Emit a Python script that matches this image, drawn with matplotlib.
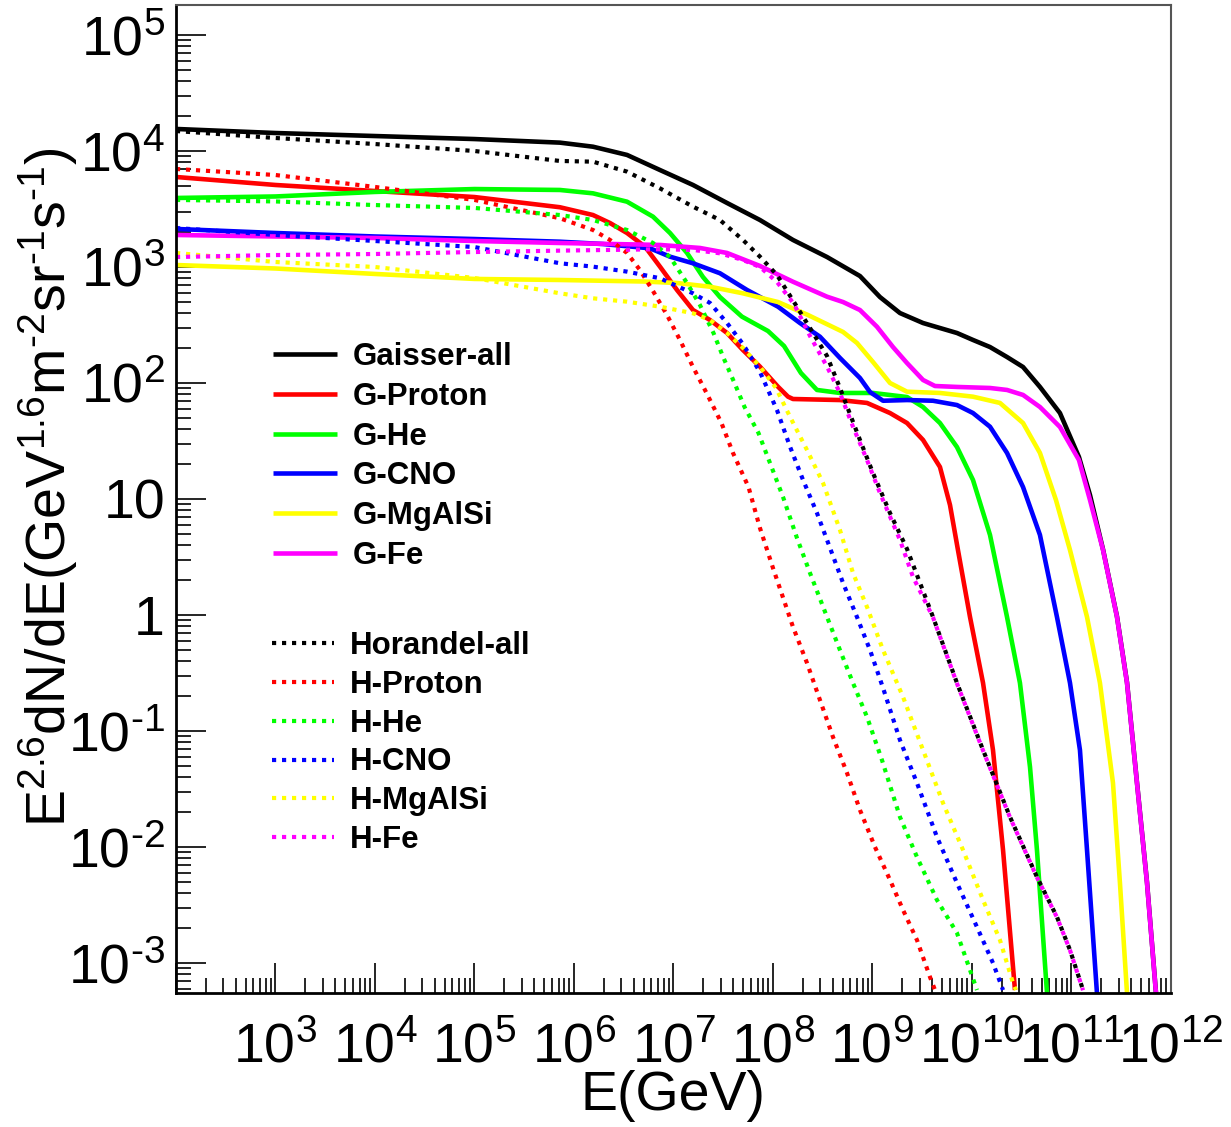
import numpy as np
import matplotlib
matplotlib.use('Agg')
import matplotlib.pyplot as plt
from matplotlib.ticker import LogLocator, FuncFormatter, NullFormatter

# ROOT-like look: Helvetica-ish text, mathtext in the same font
plt.rcParams['font.family'] = ['Liberation Sans', 'DejaVu Sans']
plt.rcParams['mathtext.fontset'] = 'custom'
plt.rcParams['mathtext.rm'] = 'Liberation Sans'
plt.rcParams['mathtext.it'] = 'Liberation Sans:italic'
plt.rcParams['mathtext.bf'] = 'Liberation Sans:bold'
plt.rcParams['mathtext.default'] = 'regular'

HY = '\u2010'  # plain hyphen, ROOT prints "-" not a wide minus

# values, as log10(E/GeV) and log10(E^2.6 dN/dE)
g_all_logE = [2.0, 3.0, 4.0, 5.0, 5.859, 6.191, 6.533, 6.864, 7.196, 7.538, 7.869, 8.201, 8.543,
              8.874, 9.075, 9.276, 9.508, 9.678, 9.849, 10.01, 10.181, 10.352, 10.513, 10.683,
              10.884, 11.075, 11.186, 11.317, 11.457, 11.558, 11.658, 11.759, 11.849]
g_all_logF = [4.19, 4.155, 4.129, 4.103, 4.072, 4.037, 3.966, 3.836, 3.707, 3.552, 3.405, 3.233, 3.086,
              2.922, 2.741, 2.603, 2.517, 2.474, 2.431, 2.371, 2.31, 2.224, 2.138, 1.966,
              1.741, 1.362, 1.034, 0.565, -0.012, -0.581, -1.443, -2.305, -3.255]

g_p_logE = [2.0, 3.0, 4.0, 5.0, 5.859, 6.191, 6.362, 6.533, 6.714, 6.864, 7.035, 7.196, 7.367, 7.538,
            7.698, 7.869, 8.05, 8.151, 8.201, 8.673, 8.945, 9.176, 9.347, 9.508, 9.678, 9.779, 9.859,
            9.98, 10.111, 10.211, 10.312, 10.432]
g_p_logF = [3.776, 3.707, 3.655, 3.603, 3.515, 3.448, 3.379, 3.293, 3.175, 3.003, 2.802, 2.629, 2.543,
            2.431, 2.284, 2.141, 1.968, 1.882, 1.862, 1.853, 1.828, 1.741, 1.655, 1.509, 1.276, 0.948,
            0.56, -0.017, -0.586, -1.164, -2.026, -3.233]

g_he_logE = [2.0, 3.0, 4.0, 5.0, 5.859, 6.191, 6.533, 6.794, 6.965, 7.136, 7.296, 7.467, 7.688, 7.95,
             8.111, 8.281, 8.442, 8.673, 9.005, 9.347, 9.508, 9.678, 9.849, 10.01, 10.181, 10.352,
             10.482, 10.583, 10.653, 10.754]
g_he_logF = [3.595, 3.608, 3.647, 3.672, 3.664, 3.635, 3.563, 3.434, 3.293, 3.121, 2.914, 2.741, 2.572,
             2.448, 2.319, 2.086, 1.94, 1.914, 1.914, 1.879, 1.793, 1.655, 1.448, 1.164, 0.69, -0.017,
             -0.586, -1.31, -2.026, -3.259]

g_cno_logE = [2.0, 3.0, 4.0, 5.0, 5.859, 6.291, 6.764, 6.965, 7.196, 7.467, 7.739, 8.05, 8.271,
              8.472, 8.673, 8.874, 8.975, 9.106, 9.347, 9.608, 9.849, 10.01, 10.181, 10.352, 10.513,
              10.683, 10.854, 10.985, 11.085, 11.156, 11.256]
g_cno_logF = [3.328, 3.293, 3.263, 3.241, 3.218, 3.198, 3.161, 3.089, 3.032, 2.946, 2.802, 2.658, 2.517,
              2.399, 2.216, 2.043, 1.922, 1.847, 1.853, 1.847, 1.81, 1.741, 1.623, 1.397, 1.103,
              0.69, -0.017, -0.586, -1.164, -2.026, -3.259]

g_mg_logE = [2.0, 3.0, 4.0, 5.0, 5.859, 6.693, 7.035, 7.367, 7.698, 8.05, 8.352, 8.704, 8.844, 9.005,
             9.176, 9.347, 9.678, 10.01, 10.281, 10.513, 10.683, 10.844, 10.985, 11.156, 11.286,
             11.417, 11.487, 11.558]
g_mg_logF = [3.017, 2.987, 2.94, 2.897, 2.888, 2.875, 2.862, 2.83, 2.773, 2.698, 2.586, 2.44, 2.345,
             2.181, 2.0, 1.925, 1.914, 1.882, 1.828, 1.655, 1.397, 0.991, 0.56, -0.017, -0.586,
             -1.448, -2.31, -3.259]

g_fe_logE = [2.0, 3.0, 4.0, 5.0, 5.859, 6.864, 7.266, 7.538, 7.869, 8.201, 8.543, 8.704, 8.874, 9.045,
             9.206, 9.347, 9.508, 9.628, 9.849, 10.181, 10.352, 10.513, 10.683, 10.884, 11.075,
             11.186, 11.317, 11.457, 11.558, 11.658, 11.759, 11.849]
g_fe_logF = [3.276, 3.263, 3.25, 3.224, 3.207, 3.19, 3.164, 3.121, 3.009, 2.873, 2.744, 2.698, 2.629,
             2.485, 2.31, 2.172, 2.026, 1.974, 1.966, 1.957, 1.94, 1.897, 1.793, 1.621, 1.336,
             0.991, 0.56, -0.017, -0.586, -1.448, -2.31, -3.259]

h_all_logE = [2.0, 3.0, 4.0, 5.0, 5.859, 6.191, 6.533, 6.864, 7.196, 7.467, 7.698, 7.869, 8.04, 8.211,
              8.372, 8.543, 8.673, 8.874, 9.005, 9.176, 9.347, 9.608, 9.849, 10.111, 10.382, 10.653,
              10.854, 10.985, 11.116]
h_all_logF = [4.172, 4.112, 4.06, 4.0, 3.914, 3.908, 3.822, 3.678, 3.52, 3.405, 3.233, 3.089, 2.931,
              2.698, 2.474, 2.233, 1.957, 1.509, 1.224, 0.879, 0.569, -0.017, -0.586, -1.164, -1.741,
              -2.259, -2.603, -2.888, -3.233]

h_p_logE = [2.0, 3.0, 4.0, 5.0, 5.859, 6.191, 6.362, 6.533, 6.663, 6.794, 6.935, 7.065, 7.196, 7.332,
            7.482, 7.598, 7.754, 7.869, 8.0, 8.201, 8.342, 8.472, 8.603, 8.744, 8.874, 9.025, 9.176,
            9.307, 9.447, 9.578, 9.628]
h_p_logF = [3.845, 3.793, 3.69, 3.578, 3.42, 3.319, 3.233, 3.121, 2.974, 2.793, 2.586, 2.371, 2.138,
            1.914, 1.655, 1.397, 1.103, 0.75, 0.405, -0.103, -0.414, -0.733, -1.052, -1.362, -1.681,
            -2.0, -2.284, -2.543, -2.802, -3.121, -3.233]

h_he_logE = [2.0, 3.0, 4.0, 5.0, 5.859, 6.191, 6.533, 6.794, 6.965, 7.136, 7.266, 7.402, 7.503, 7.613,
             7.714, 7.854, 7.97, 8.101, 8.241, 8.372, 8.543, 8.673, 8.804, 8.945, 9.095, 9.276, 9.447,
             9.648, 9.849, 9.98, 10.05]
h_he_logF = [3.578, 3.565, 3.534, 3.509, 3.448, 3.405, 3.319, 3.207, 3.086, 2.862, 2.672, 2.431, 2.216,
             2.0, 1.793, 1.569, 1.31, 1.017, 0.664, 0.362, -0.017, -0.302, -0.586, -0.879, -1.25,
             -1.741, -2.086, -2.457, -2.741, -3.06, -3.233]

h_cno_logE = [2.0, 3.0, 4.0, 5.0, 5.859, 6.191, 6.533, 6.864, 7.196, 7.367, 7.538, 7.698, 7.869, 8.04,
              8.171, 8.302, 8.442, 8.573, 8.704, 8.844, 8.975, 9.106, 9.276, 9.447, 9.648, 9.849,
              10.05, 10.211, 10.312]
h_cno_logF = [3.336, 3.276, 3.224, 3.172, 3.032, 3.003, 2.96, 2.903, 2.773, 2.69, 2.517, 2.336, 2.095,
              1.767, 1.451, 1.164, 0.879, 0.578, 0.276, -0.017, -0.302, -0.629, -1.078, -1.448,
              -1.914, -2.31, -2.69, -3.0, -3.233]

h_mg_logE = [2.0, 3.0, 4.0, 5.0, 5.859, 6.191, 6.533, 6.864, 7.196, 7.367, 7.538, 7.698, 7.869, 8.03,
             8.171, 8.342, 8.503, 8.673, 8.804, 8.945, 9.106, 9.307, 9.508, 9.709, 9.91, 10.111,
             10.281, 10.412, 10.442]
h_mg_logF = [3.121, 3.043, 3.0, 2.905, 2.773, 2.73, 2.701, 2.658, 2.601, 2.543, 2.431, 2.302, 2.141,
             1.957, 1.709, 1.422, 1.138, 0.733, 0.362, 0.069, -0.302, -0.707, -1.164, -1.621, -2.026,
             -2.457, -2.802, -3.172, -3.233]

h_fe_logE = [2.0, 3.0, 4.0, 5.0, 5.859, 6.864, 7.196, 7.467, 7.698, 7.869, 8.04, 8.211, 8.372, 8.543,
             8.673, 8.804, 8.945, 9.075, 9.276, 9.407, 9.608, 9.849, 10.111, 10.382, 10.653, 10.854,
             10.985, 11.116]
h_fe_logF = [3.086, 3.103, 3.112, 3.129, 3.141, 3.153, 3.147, 3.118, 3.06, 3.0, 2.871, 2.681, 2.405,
             2.141, 1.914, 1.623, 1.336, 1.052, 0.647, 0.328, -0.02, -0.59, -1.168, -1.745, -2.262,
             -2.606, -2.89, -3.235]

labels = ['Gaisser-all', 'G-Proton', 'G-He', 'G-CNO', 'G-MgAlSi', 'G-Fe',
          'Horandel-all', 'H-Proton', 'H-He', 'H-CNO', 'H-MgAlSi', 'H-Fe']
colors = ['#000000', '#ff0000', '#00ff00', '#0000ff', '#ffff00', '#ff00ff']

gaisser = [(g_all_logE, g_all_logF), (g_p_logE, g_p_logF), (g_he_logE, g_he_logF),
           (g_cno_logE, g_cno_logF), (g_mg_logE, g_mg_logF), (g_fe_logE, g_fe_logF)]
horandel = [(h_all_logE, h_all_logF), (h_p_logE, h_p_logF), (h_he_logE, h_he_logF),
            (h_cno_logE, h_cno_logF), (h_mg_logE, h_mg_logF), (h_fe_logE, h_fe_logF)]

fig = plt.figure(figsize=(12.31, 11.27), dpi=100)
ax = fig.add_axes([0.14297, 0.11890, 0.80828, 0.87667])

handles = []
for (le, lf), c in zip(gaisser, colors):
    h, = ax.plot(10 ** np.array(le), 10 ** np.array(lf), color=c, lw=3.3,
                 solid_joinstyle='round', solid_capstyle='butt')
    handles.append(h)
for (le, lf), c in zip(horandel, colors):
    h, = ax.plot(10 ** np.array(le), 10 ** np.array(lf), color=c, lw=3.0,
                 linestyle=(0, (1.0, 1.4)), dash_capstyle='butt')
    handles.append(h)

ax.set_xscale('log')
ax.set_yscale('log')
ax.set_xlim(1e2, 1e12)
ax.set_ylim(10 ** -3.2586, 10 ** 5.2586)


def xfmt(v, pos):
    e = int(round(np.log10(v)))
    if e <= 2:
        return ''
    return r'$10^{%d}$' % e


def yfmt(v, pos):
    e = int(round(np.log10(v)))
    if e == 0:
        return '1'
    if e == 1:
        return '10'
    if e < 0:
        return '$10^{' + HY + str(-e) + '}$'
    return r'$10^{%d}$' % e


ax.xaxis.set_major_locator(LogLocator(base=10, numticks=40))
ax.xaxis.set_minor_locator(LogLocator(base=10, subs=np.arange(2, 10), numticks=400))
ax.yaxis.set_major_locator(LogLocator(base=10, numticks=40))
ax.yaxis.set_minor_locator(LogLocator(base=10, subs=np.arange(2, 10), numticks=400))
ax.xaxis.set_major_formatter(FuncFormatter(xfmt))
ax.yaxis.set_major_formatter(FuncFormatter(yfmt))
ax.xaxis.set_minor_formatter(NullFormatter())
ax.yaxis.set_minor_formatter(NullFormatter())

ax.tick_params(which='both', direction='in', top=False, right=False, width=1.2, color='black')
ax.tick_params(which='major', length=21.6, labelsize=40)
ax.tick_params(which='minor', length=10.8)
ax.tick_params(axis='x', which='major', pad=21)
ax.tick_params(axis='y', which='major', pad=8)

for s in ['left', 'bottom']:
    ax.spines[s].set_linewidth(2.0)
    ax.spines[s].set_color('black')
for s in ['top', 'right']:
    ax.spines[s].set_linewidth(1.5)
    ax.spines[s].set_color('#555555')

ax.set_xlabel('E(GeV)', fontsize=40)
ax.xaxis.set_label_coords(0.5, -0.078)
ylab = ('E$^{2.6}$dN/dE(GeV$^{1.6}$m$^{' + HY + '2}$sr$^{' + HY + '1}$s$^{' + HY + '1}$)')
ax.set_ylabel(ylab, fontsize=40, va='center', ha='center')
ax.yaxis.set_label_coords(-0.1285, 0.512)

legprops = dict(loc='center left', frameon=False, prop=dict(weight='bold', size=22.5),
                handletextpad=0.51, borderpad=0, borderaxespad=0)
leg1 = ax.legend(handles[:6], labels[:6], bbox_to_anchor=(0.0975, 0.543),
                 handlelength=2.04, labelspacing=0.315, **legprops)
ax.add_artist(leg1)
leg2 = ax.legend(handles[6:], labels[6:], bbox_to_anchor=(0.0965, 0.253),
                 handlelength=1.98, labelspacing=0.285, **legprops)

fig.savefig('out.png', dpi=100)
